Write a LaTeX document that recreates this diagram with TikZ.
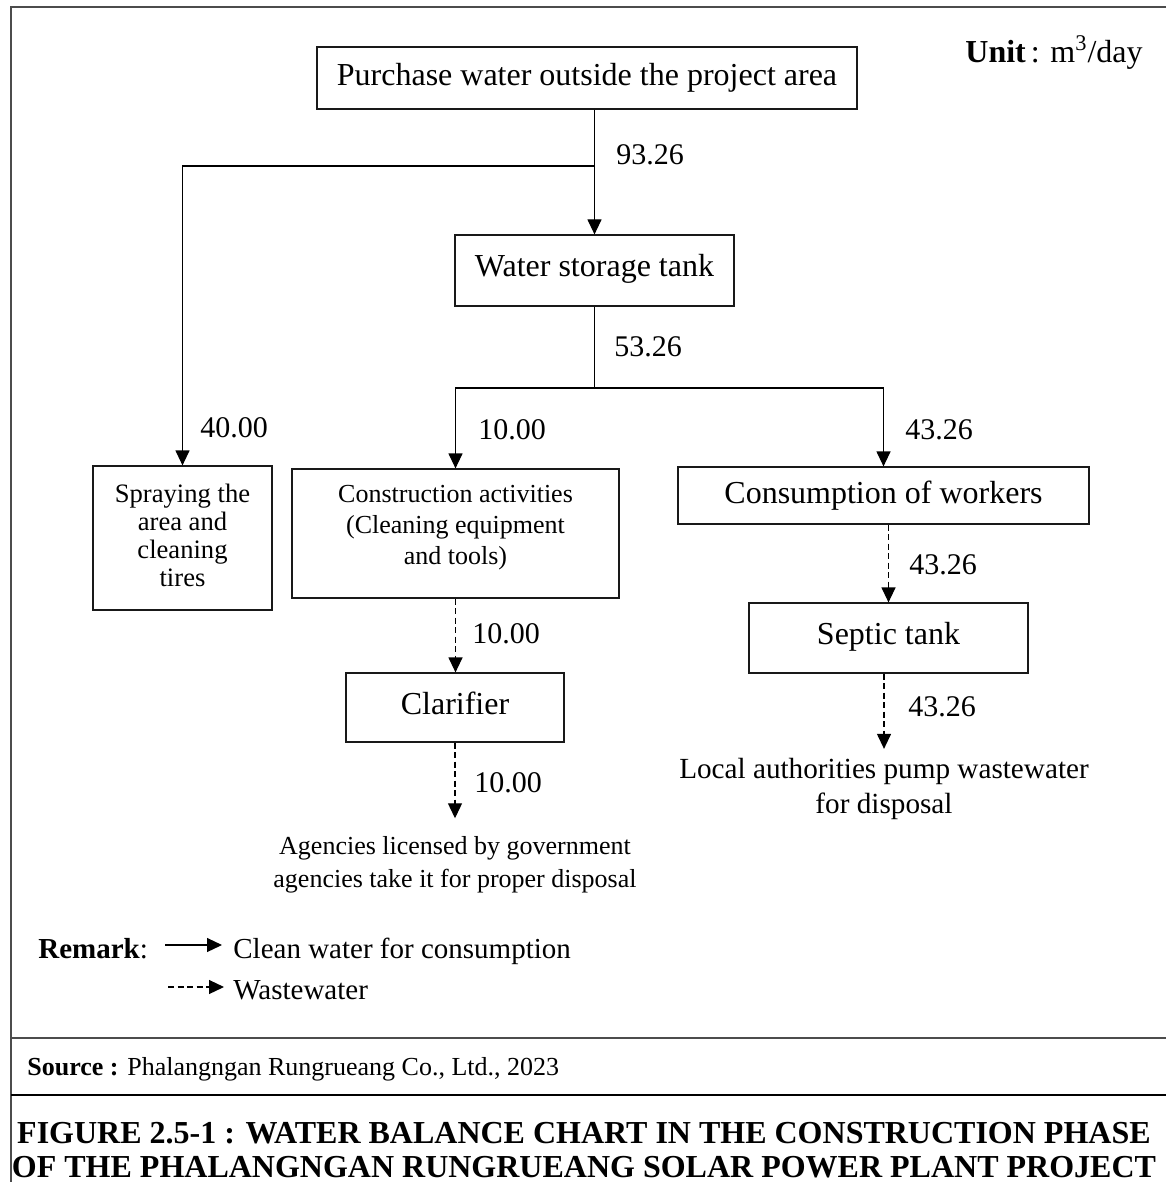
\documentclass[tikz,border=0pt]{standalone}
\usepackage{fontspec}
\setmainfont{Liberation Serif}
\usetikzlibrary{arrows.meta,calc}
\newcommand\dropby[1]{\rule[-#1]{0pt}{#1}}
\begin{document}
\begin{tikzpicture}[x=0.5pt,y=-0.5pt,
  box/.style={draw=black!90, line width=0.6pt, inner sep=0pt, align=center, anchor=center},
  big/.style={font=\fontsize{16}{19}\selectfont},
  lbl/.style={anchor=west, inner sep=0pt, font=\fontsize{15}{18}\selectfont},
  flow/.style={draw=black, line width=0.6pt, -{Triangle[length=7.5pt,width=7pt]}},
  waste/.style={flow, dash pattern=on 3pt off 1.75pt},
  frameline/.style={draw=black!70, line width=1pt},
  legend/.style={anchor=base west, inner sep=0pt, font=\fontsize{14.5}{17}\selectfont}]
\useasboundingbox (0,0) rectangle (1166,1182);

% frame
\draw[frameline] (1166,7) -- (11,7) -- (11,1182);
\draw[frameline] (11,1038) -- (1166,1038);
\draw[draw=black, line width=0.6pt] (11,1095) -- (1166,1095);

% unit
\node[anchor=base west, inner sep=0pt, big] (unit) at (965,63) {\textbf{Unit}\kern2.5pt: m\textsuperscript{3}/day};

% boxes
\node[box, big, minimum width=270pt, minimum height=31pt] (top) at (587,78) {Purchase water outside the project area};
\node[box, big, minimum width=139.5pt, minimum height=35.5pt] (tank) at (594.5,270.5) {Water storage tank\dropby{5pt}};
\node[box, font=\fontsize{13.3}{14}\selectfont, minimum width=89.5pt, minimum height=72pt] (spray) at (182.5,538) {Spraying the\\area and\\cleaning\\tires\dropby{3pt}};
\node[box, font=\fontsize{13}{15.5}\selectfont, minimum width=163.5pt, minimum height=64.5pt] (constr) at (455.5,533.5) {Construction activities\\(Cleaning equipment\\and tools)\dropby{8.5pt}};
\node[box, big, minimum width=205.5pt, minimum height=28.5pt] (cons) at (883.5,495.5) {Consumption of workers};
\node[box, big, minimum width=109pt, minimum height=34.5pt] (clar) at (455,707.5) {Clarifier\dropby{4.5pt}};
\node[box, big, minimum width=139.5pt, minimum height=35pt] (septic) at (888.5,638) {Septic tank\dropby{5pt}};

% end texts
\node[inner xsep=0pt, inner ysep=9pt, align=center, font=\fontsize{13}{16.5}\selectfont] (agency) at (455,865) {Agencies licensed by government\\agencies take it for proper disposal};
\node[inner xsep=0pt, inner ysep=4.5pt, align=center, font=\fontsize{14.6}{17.5}\selectfont] (local) at (884,789) {Local authorities pump wastewater\\for disposal};

% junctions
\coordinate (j1) at (595,166);
\coordinate (j2) at (594.5,388);

% connectors
\draw[flow] (top.south -| tank.north) -- (tank.north);
\draw[flow] (j1) -| (spray.north);
\draw[line width=0.6pt] (tank.south) -- (j2);
\draw[flow] (j2) -| (constr.north);
\draw[flow] (j2) -| (cons.north);
\draw[waste] (constr.south) -- (constr.south |- clar.north);
\draw[waste] (clar.south) -- (agency.north);
\draw[waste] (cons.south -| septic.north) -- (septic.north);
\draw[waste] (septic.south -| local.north) -- (local.north);

% labels
\node[lbl] (v1) at (616,155) {93.26};
\node[lbl] (v2) at (614,347) {53.26};
\node[lbl] (v3) at (200,428) {40.00};
\node[lbl] (v4) at (478,430) {10.00};
\node[lbl] (v5) at (905,430) {43.26};
\node[lbl] (v6) at (472,634) {10.00};
\node[lbl] (v7) at (909,565) {43.26};
\node[lbl] (v8) at (474,783) {10.00};
\node[lbl] (v9) at (908,707) {43.26};

% legend
\node[legend] (remark) at (38,958) {\textbf{Remark}:};
\coordinate (ls1) at (165,945);
\coordinate (le1) at (222,945);
\draw[flow] (ls1) -- (le1);
\node[legend] (cw) at (233,958) {Clean water for consumption};
\coordinate (ls2) at (168,987);
\coordinate (le2) at (224,987);
\draw[waste] (ls2) -- (le2);
\node[legend] (ww) at (233,999) {Wastewater};

% source
\node[anchor=base west, inner sep=0pt, font=\fontsize{13}{16}\selectfont] (source) at (27,1075) {\textbf{Source :} Phalangngan Rungrueang Co., Ltd., 2023};

% title
\node[align=center, inner sep=0pt, font=\bfseries\fontsize{16}{17}\selectfont] (title) at (584,1150) {FIGURE 2.5-1 : WATER BALANCE CHART IN THE CONSTRUCTION PHASE\\OF THE PHALANGNGAN RUNGRUEANG SOLAR POWER PLANT PROJECT};
\end{tikzpicture}
\end{document}
